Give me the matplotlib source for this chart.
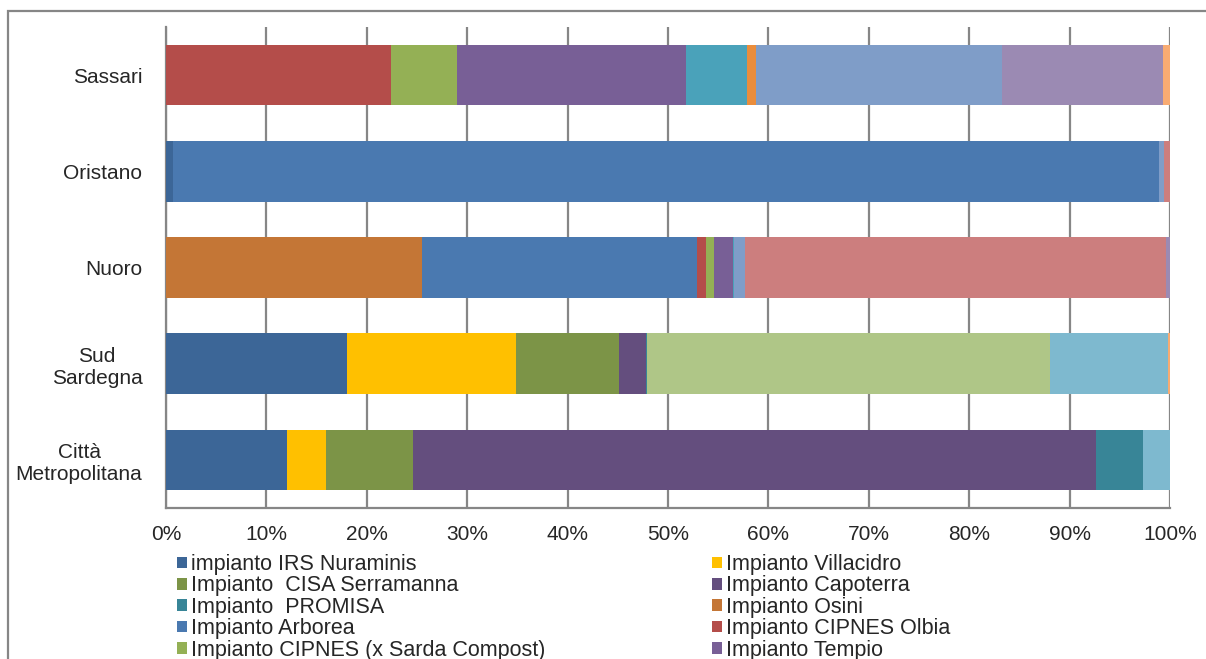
import matplotlib
matplotlib.use("Agg")
import matplotlib.pyplot as plt
from matplotlib.patches import Patch, Rectangle
import numpy as np

plt.rcParams['font.family'] = ['Liberation Sans', 'DejaVu Sans']

categories = ["Città\nMetropolitana", "Sud\nSardegna", "Nuoro", "Oristano", "Sassari"]

series_names = [
    "impianto IRS Nuraminis", "Impianto Villacidro", "Impianto  CISA Serramanna",
    "Impianto Capoterra", "Impianto  PROMISA", "Impianto Osini",
    "Impianto Arborea", "Impianto CIPNES Olbia", "Impianto CIPNES (x Sarda Compost)",
    "Impianto Tempio", "Serie 11", "Serie 12", "Serie 13", "Serie 14",
    "Serie 15", "Serie 16", "Serie 17", "Serie 18",
]
legend_count = 10

s01 = [12.1, 18.0, 0.0, 0.7, 0.0]
s02 = [3.8, 16.9, 0.0, 0.0, 0.0]
s03 = [8.7, 10.2, 0.0, 0.0, 0.0]
s04 = [68.0, 2.7, 0.0, 0.0, 0.0]
s05 = [4.7, 0.1, 0.0, 0.0, 0.0]
s06 = [0.0, 0.0, 25.5, 0.0, 0.0]
s07 = [0.0, 0.0, 27.4, 98.2, 0.0]
s08 = [0.0, 0.0, 0.9, 0.0, 22.4]
s09 = [0.0, 0.0, 0.8, 0.0, 6.6]
s10 = [0.0, 0.0, 1.9, 0.0, 22.75]
s11 = [0.0, 0.0, 0.1, 0.0, 6.1]
s12 = [0.0, 0.0, 0.0, 0.0, 0.9]
s13 = [0.0, 0.0, 1.1, 0.5, 24.55]
s14 = [0.0, 0.0, 41.9, 0.6, 0.0]
s15 = [0.0, 40.1, 0.0, 0.0, 0.0]
s16 = [0.0, 0.0, 0.4, 0.0, 16.05]
s17 = [2.7, 11.8, 0.0, 0.0, 0.0]
s18 = [0.0, 0.2, 0.0, 0.0, 0.65]

series_values = [s01, s02, s03, s04, s05, s06, s07, s08, s09, s10,
                 s11, s12, s13, s14, s15, s16, s17, s18]

colors = ["#3C6697", "#FFC000", "#7C9447", "#644E7E", "#388597", "#C47636",
          "#4A79B0", "#B44D4A", "#94B055", "#785F96", "#4AA2BA", "#EA8D3C",
          "#7F9DC8", "#CC7E7E", "#AFC687", "#9B8AB3", "#7EB9CF", "#F8AB72"]

xticks = [0, 10, 20, 30, 40, 50, 60, 70, 80, 90, 100]

W, H = 1206, 659
fig = plt.figure(figsize=(W / 100, H / 100), dpi=100)

# outer chart-area border
fig.add_artist(Rectangle((8 / W, -0.1), 1.2, (H - 11) / H + 0.1, transform=fig.transFigure,
                         fill=False, edgecolor="#868686", linewidth=1.6))

ax = fig.add_axes([166 / W, (H - 508) / H, 1004 / W, 481 / H])

y = np.arange(len(categories))
left = np.zeros(len(categories))
for name, vals, col in zip(series_names, series_values, colors):
    v = np.array(vals)
    ax.barh(y, v, left=left, height=0.63, color=col, edgecolor="none", zorder=3)
    left += v

ax.set_xlim(0, 100)
ax.set_ylim(-0.5, len(categories) - 0.5)
ax.set_xticks(xticks)
ax.set_xticklabels([f"{t}%" for t in xticks])
ax.set_yticks(y)
ax.set_yticklabels(categories, ha="right", multialignment="center")
ax.tick_params(axis="both", length=0, labelsize=15, colors="#262626")
ax.tick_params(axis="x", pad=12)
ax.tick_params(axis="y", pad=17)
ax.grid(axis="x", color="#868686", linewidth=1.6, zorder=0)
ax.set_axisbelow(True)
for s in ["top", "right"]:
    ax.spines[s].set_visible(False)
for s in ["left", "bottom"]:
    ax.spines[s].set_color("#868686")
    ax.spines[s].set_linewidth(1.6)

# legend: Excel order row-wise in 2 columns
handles = [Patch(facecolor=colors[i], edgecolor="none") for i in range(legend_count)]
labels = series_names[:legend_count]
order = list(range(0, legend_count, 2)) + list(range(1, legend_count, 2))
leg = fig.legend([handles[i] for i in order], [labels[i] for i in order],
                 loc="upper left", bbox_to_anchor=(177 / W, (H - 554) / H),
                 ncol=2, frameon=False, fontsize=15.5, handlelength=0.45,
                 handleheight=0.45, handletextpad=0.2, labelspacing=0.02,
                 columnspacing=7.75, borderpad=0, borderaxespad=0)
for t in leg.get_texts():
    t.set_color("#262626")

fig.savefig("out.png", dpi=100)
